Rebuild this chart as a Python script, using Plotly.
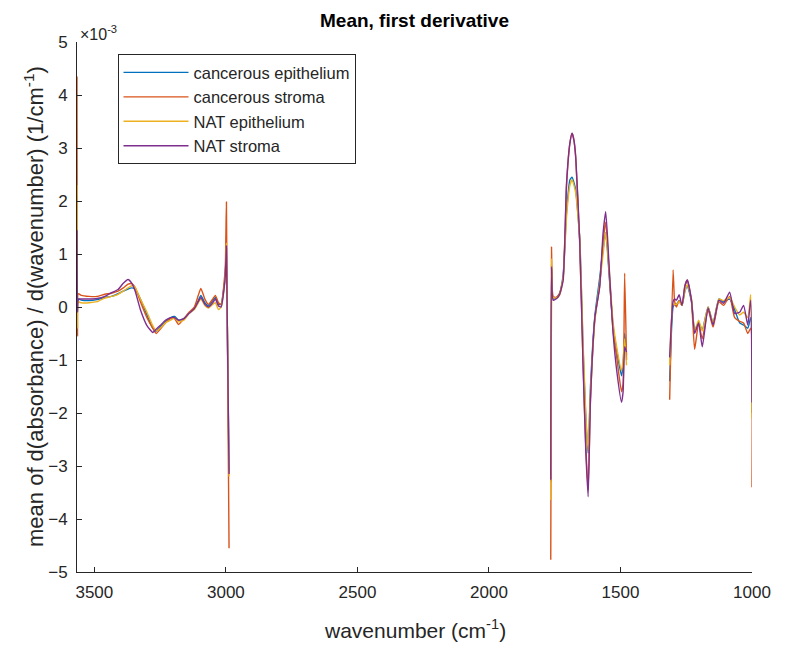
import plotly.graph_objects as go

# wavenumber segments (cm^-1)
wn1 = [3566, 3564, 3561, 3550, 3520, 3490, 3460, 3435, 3410, 3390, 3372, 3358, 3345, 3325, 3300,
       3278, 3265, 3250, 3230, 3210, 3195, 3180, 3160, 3140, 3120, 3105, 3095, 3080, 3066, 3050,
       3040, 3028, 3018, 3008, 3002, 2998, 2988]
wn2 = [1765, 1762, 1756, 1745, 1732, 1718, 1705, 1692, 1684, 1677, 1670, 1655, 1642, 1632, 1623, 1614,
       1597, 1579, 1566, 1556, 1543, 1528, 1513, 1496, 1490, 1484, 1477]
wn3 = [1313, 1300, 1294, 1287, 1277, 1266, 1255, 1246, 1230, 1218, 1203, 1189, 1167, 1148, 1126,
       1108, 1085, 1066, 1047, 1032, 1016, 1005, 1000]

# values in units of 1e-3
ce1 = [2.1, 0.05, 0.15, 0.13, 0.12, 0.14, 0.18, 0.2, 0.25, 0.3, 0.34, 0.36, 0.34, 0.15, -0.15,
       -0.4, -0.46, -0.38, -0.28, -0.2, -0.18, -0.25, -0.22, -0.12, -0.02, 0.12, 0.22, 0.08, 0.02, 0.12,
       0.18, 0.05, 0.05, 0.35, 0.6, 1.1, -3.1]
cs1 = [4.35, -0.55, 0.25, 0.22, 0.2, 0.2, 0.24, 0.26, 0.3, 0.36, 0.43, 0.44, 0.37, 0.1, -0.2,
       -0.4, -0.5, -0.42, -0.3, -0.22, -0.22, -0.33, -0.22, -0.1, 0.0, 0.22, 0.35, 0.15, 0.05, 0.15,
       0.22, 0.08, 0.05, 0.4, 0.8, 1.98, -4.55]
ne1 = [2.3, -0.4, 0.1, 0.08, 0.08, 0.1, 0.17, 0.2, 0.24, 0.3, 0.36, 0.4, 0.37, 0.15, -0.1,
       -0.35, -0.45, -0.4, -0.3, -0.25, -0.2, -0.28, -0.25, -0.12, -0.05, 0.08, 0.15, 0.03, -0.02, 0.05,
       0.08, -0.05, 0.0, 0.3, 0.6, 1.2, -3.2]
ns1 = [1.45, -0.1, 0.15, 0.15, 0.15, 0.16, 0.2, 0.27, 0.33, 0.45, 0.52, 0.45, 0.3, -0.05, -0.35,
       -0.48, -0.42, -0.35, -0.25, -0.2, -0.2, -0.25, -0.22, -0.12, -0.03, 0.1, 0.18, 0.05, 0.0, 0.08,
       0.15, 0.02, 0.0, 0.3, 0.6, 1.15, -3.15]

ce2 = [-3.3, 0.8, 0.15, 0.17, 0.25, 0.6, 1.8, 2.4, 2.45, 2.35, 2.2, 1.3, -0.8, -2.07, -2.76, -1.5,
       -0.15, 0.55, 1.1, 1.4, 0.6, -0.37, -0.86, -1.3, -1.1, -0.5, -0.9]
cs2 = [-4.77, 1.13, 0.2, 0.18, 0.25, 0.55, 2.3, 3.1, 3.28, 3.15, 2.8, 1.2, -1.1, -2.6, -3.45, -1.75,
       -0.2, 0.4, 1.25, 1.6, 0.65, -0.45, -1.0, -1.6, -1.45, 0.64, -1.0]
ne2 = [-3.64, 0.9, 0.18, 0.17, 0.22, 0.55, 1.7, 2.3, 2.4, 2.3, 2.15, 1.3, -0.7, -2.0, -2.7, -1.6,
       -0.25, 0.45, 1.0, 1.4, 0.7, -0.3, -0.8, -1.2, -1.0, -0.6, -1.1]
ns2 = [-3.26, 0.76, 0.13, 0.15, 0.23, 0.5, 2.33, 3.1, 3.28, 3.15, 2.83, 1.26, -1.13, -2.7, -3.58, -1.75,
       -0.19, 0.38, 1.4, 1.8, 0.76, -0.5, -1.25, -1.8, -1.6, -0.75, -0.85]

ce3 = [-1.4, 0.0, 0.05, 0.05, 0.12, 0.03, 0.3, 0.4, 0.1, -0.43, -0.3, -0.43, 0.0, -0.3, 0.15,
       0.1, 0.15, -0.05, -0.3, -0.34, -0.4, -0.2, -2.0]
cs3 = [-1.75, 0.7, 0.1, 0.0, 0.12, 0.03, 0.4, 0.51, 0.1, -0.8, -0.3, -0.6, -0.05, -0.38, 0.1,
       0.03, 0.2, -0.2, -0.27, -0.3, -0.5, -0.4, -3.4]
ne3 = [-1.1, 0.05, 0.05, 0.05, 0.1, 0.03, 0.3, 0.42, 0.15, -0.45, -0.25, -0.45, 0.0, -0.3, 0.15,
       0.12, 0.18, 0.0, -0.15, -0.1, -0.2, 0.23, -2.1]
ns3 = [-0.95, 0.1, 0.15, 0.13, 0.23, 0.03, 0.4, 0.51, 0.13, -0.5, -0.3, -0.75, -0.02, -0.34, 0.13,
       0.07, 0.28, -0.12, -0.1, 0.03, -0.34, 0.13, -1.8]

names = ["cancerous epithelium", "cancerous stroma", "NAT epithelium", "NAT stroma"]
colors = ["#0072BD", "#D95319", "#EDB120", "#7E2F8E"]
series = [(ce1, ce2, ce3), (cs1, cs2, cs3), (ne1, ne2, ne3), (ns1, ns2, ns3)]

x_ticks = [3500, 3000, 2500, 2000, 1500, 1000]
y_ticks = [-5, -4, -3, -2, -1, 0, 1, 2, 3, 4, 5]

FONT = "Liberation Sans, Arial, Helvetica, sans-serif"
TXT = "#262626"

x_all = wn1 + [None] + wn2 + [None] + wn3

fig = go.Figure()
for name, col, (s1, s2, s3) in zip(names, colors, series):
    y_all = s1 + [None] + s2 + [None] + s3
    fig.add_trace(go.Scatter(x=x_all, y=y_all, mode="lines", name=name,
                             line=dict(color=col, width=1.4, shape="spline", smoothing=0.5),
                             connectgaps=False))

axis_common = dict(showgrid=False, zeroline=False, showline=True, linecolor=TXT,
                   linewidth=1, ticks="inside", ticklen=5, tickcolor=TXT, tickwidth=1,
                   tickfont=dict(family=FONT, size=17, color=TXT),
                   ticklabelstandoff=5, mirror=False, automargin=False)

fig.update_layout(
    width=769, height=636,
    margin=dict(l=68.5, r=24.5, t=34, b=72),
    paper_bgcolor="white", plot_bgcolor="white",
    title=dict(text="<b>Mean, first derivative</b>", x=0.5, xref="paper", y=0.991, yref="container",
               xanchor="center", yanchor="top",
               font=dict(family=FONT, size=19, color="black")),
    xaxis=dict(range=[3566, 1000], tickvals=x_ticks, **axis_common),
    yaxis=dict(range=[-5, 5], tickvals=y_ticks, **axis_common),
    legend=dict(x=0.06, y=0.977, xanchor="left", yanchor="top",
                bgcolor="white", bordercolor=TXT, borderwidth=1,
                font=dict(family=FONT, size=16.5, color=TXT),
                itemwidth=65, tracegroupgap=0),
    showlegend=True,
)

fig.add_annotation(text="wavenumber (cm<sup>-1</sup>)", xref="paper", yref="paper", x=0.5, y=0,
                   xanchor="center", yanchor="middle", yshift=-57, showarrow=False,
                   font=dict(family=FONT, size=21, color=TXT))
fig.add_annotation(text="mean of d(absorbance) / d(wavenumber) (1/cm<sup>-1</sup>)",
                   xref="paper", yref="paper", x=0, y=0.5, textangle=-90,
                   xanchor="center", yanchor="middle", xshift=-43, showarrow=False,
                   font=dict(family=FONT, size=22, color=TXT))
fig.add_annotation(text="×10<sup>-3</sup>", xref="paper", yref="paper", x=0.0, y=1.0,
                   xanchor="left", yanchor="bottom", showarrow=False, xshift=1, yshift=-3,
                   font=dict(family=FONT, size=16, color=TXT))

fig.write_html("out.html")
